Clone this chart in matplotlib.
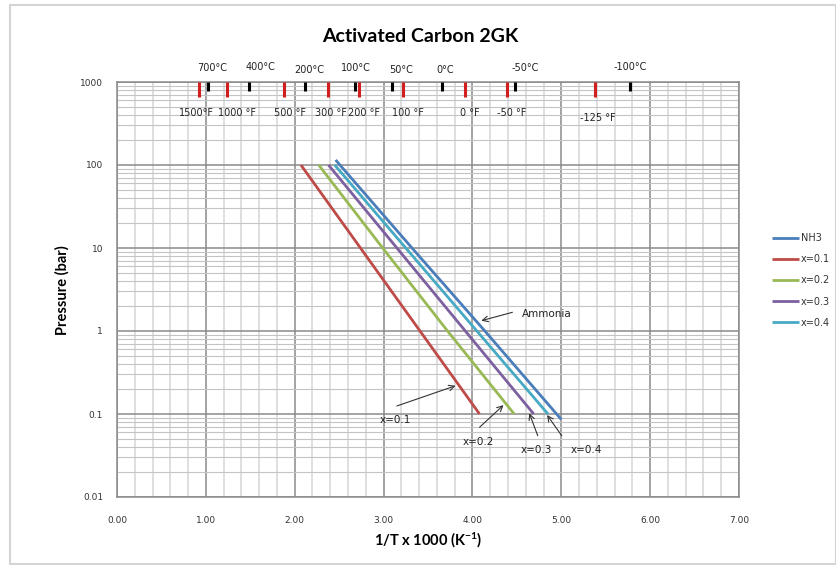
import matplotlib
matplotlib.use("Agg")
import matplotlib.pyplot as plt
from matplotlib.patches import Rectangle
from matplotlib.ticker import FixedLocator, NullFormatter
import numpy as np

plt.rcParams["font.family"] = ["DejaVu Sans"]
plt.rcParams["mathtext.fontset"] = "custom"
plt.rcParams["mathtext.rm"] = "Lato:bold"
plt.rcParams["mathtext.it"] = "Lato:bold"

# ---- isotherm data: 1/T x 1000 (1/K) vs pressure (bar) ----
nh3_x = [2.46, 3.32, 4.14, 5.00]
nh3_p = [115, 10, 1, 0.086]
x01_x = [2.07, 2.74, 3.41, 4.08]
x01_p = [100, 10, 1, 0.1]
x02_x = [2.27, 2.99, 3.72, 4.47]
x02_p = [100, 10, 1, 0.1]
x03_x = [2.38, 3.15, 3.92, 4.69]
x03_p = [100, 10, 1, 0.1]
x04_x = [2.45, 3.25, 4.05, 4.85]
x04_p = [100, 10, 1, 0.1]

series_names = ["NH3", "x=0.1", "x=0.2", "x=0.3", "x=0.4"]
series_colors = ["#4A7EBB", "#BE4B48", "#98B954", "#7D60A0", "#46AAC5"]

# reference temperatures shown along the top edge
temps_c = [700, 400, 200, 100, 50, 0, -50, -100]
temps_f = [1500, 1000, 500, 300, 200, 100, 0, -50, -125]
labels_c = ["700°C", "400°C", "200°C", "100°C", "50°C", "0°C", "-50°C", "-100°C"]
labels_f = ["1500°F", "1000 °F", "500 °F", "300 °F", "200 °F", "100 °F",
            "0 °F", "-50 °F", "-125 °F"]

x_ticks = [0, 1, 2, 3, 4, 5, 6, 7]
y_ticks = [0.01, 0.1, 1, 10, 100, 1000]
y_ticklabels = ["0.01", "0.1", "1", "10", "100", "1000"]


def inv_temp(t_kelvin):
    return 1000.0 / np.asarray(t_kelvin, dtype=float)


W, H = 837, 569
fig = plt.figure(figsize=(W / 100, H / 100), dpi=100)
fig.patch.set_facecolor("white")

# outer chart frame
fig.patches.append(Rectangle((10 / W, 5 / H), (W - 11) / W, (H - 10) / H,
                             transform=fig.transFigure, fill=False,
                             edgecolor="#d4d4d4", lw=1.5))

ax = fig.add_axes([117 / W, 1 - 497 / H, (739 - 117) / W, (497 - 82) / H])
ax.set_xlim(0, 7)
ax.set_yscale("log")
ax.set_ylim(0.01, 1000)

# grid
ax.xaxis.set_major_locator(FixedLocator(x_ticks))
ax.xaxis.set_minor_locator(FixedLocator(np.arange(0, 7.01, 0.2)))
minor_y = [m * 10.0 ** e for e in range(-2, 3) for m in range(2, 10)]
ax.yaxis.set_major_locator(FixedLocator(y_ticks))
ax.yaxis.set_minor_locator(FixedLocator(minor_y))
ax.yaxis.set_minor_formatter(NullFormatter())
ax.grid(which="major", axis="both", color="#8a8a8a", lw=1.1)
ax.grid(which="minor", axis="y", color="#c4c4c4", lw=0.8)
ax.grid(which="minor", axis="x", color="#d6d6d6", lw=1.1)
ax.set_axisbelow(True)

ax.set_xticklabels([f"{v:.2f}" for v in x_ticks])
ax.set_yticklabels(y_ticklabels)
ax.tick_params(which="both", length=0)
ax.tick_params(axis="x", pad=14, labelsize=6.5, labelcolor="#333333")
ax.tick_params(axis="y", pad=10, labelsize=6.5, labelcolor="#333333")
for s in ax.spines.values():
    s.set_color("#8a8a8a")
    s.set_linewidth(1.1)

# isotherms
all_x = [nh3_x, x01_x, x02_x, x03_x, x04_x]
all_p = [nh3_p, x01_p, x02_p, x03_p, x04_p]
handles = []
for xs, ps, name, col in zip(all_x, all_p, series_names, series_colors):
    ln, = ax.plot(xs, ps, color=col, lw=2.0, label=name, solid_capstyle="butt")
    handles.append(ln)
# keep the upper lines drawn above the others
handles[0].set_zorder(3)

# temperature reference marks along the top
xform = ax.get_xaxis_transform()
xc = inv_temp(np.array(temps_c) + 273.15)
xf = inv_temp((np.array(temps_f) - 32) * 5 / 9 + 273.15)
for x in xc:
    ax.plot([x, x], [1.0, 1 - 9 / 415], transform=xform, color="black",
            lw=2.2, clip_on=False, zorder=4, solid_capstyle="butt")
for x in xf:
    ax.plot([x, x], [1.0, 1 - 15 / 415], transform=xform, color="#d21e1e",
            lw=2.2, clip_on=False, zorder=4, solid_capstyle="butt")

c_dx = [4, 11, 4, 1, 9, 3, 10, 0]
c_dy = [14.3, 15.3, 12, 13.7, 12, 12, 13.7, 15.3]
for x, lab, dx, dy in zip(xc, labels_c, c_dx, c_dy):
    ax.annotate(lab, (x, 1.0), xycoords=xform,
                xytext=(dx * 0.72, dy * 0.72), textcoords="offset points",
                ha="center", va="center", fontsize=7, color="#222222")
f_dx = [-2, 10, 6, 3, 5, 5, 5, 4, 3]
f_dy = [31, 31, 31, 31, 31, 31, 31, 31, 36]
for x, lab, dx, dy in zip(xf, labels_f, f_dx, f_dy):
    ax.annotate(lab, (x, 1.0), xycoords=xform,
                xytext=(dx * 0.72, -dy * 0.72), textcoords="offset points",
                ha="center", va="center", fontsize=7, color="#222222")

# callouts
arrow = dict(arrowstyle="->", color="#333333", lw=0.8, shrinkA=0, shrinkB=0,
             mutation_scale=10)
ax.annotate("", xy=(4.10, 1.33), xytext=(4.45, 1.68), arrowprops=arrow)
ax.text(4.555, 1.60, "Ammonia", fontsize=7.5, ha="left", va="center",
        color="#222222")
callouts = [
    ("x=0.1", (3.81, 0.219), (3.15, 0.125), (3.136, 0.0847)),
    ("x=0.2", (4.35, 0.128), (4.08, 0.0692), (4.066, 0.0464)),
    ("x=0.3", (4.64, 0.102), (4.735, 0.0548), (4.723, 0.0368)),
    ("x=0.4", (4.84, 0.0973), (5.005, 0.0548), (5.286, 0.0368)),
]
for lab, head, tail, txt in callouts:
    ax.annotate("", xy=head, xytext=tail, arrowprops=arrow)
    ax.text(txt[0], txt[1], lab, fontsize=7.5, ha="center", va="center",
            color="#222222")

# titles
fig.text(420 / W, 1 - 36 / H, "Activated Carbon 2GK", ha="center",
         va="center", fontsize=14, fontweight="bold", family="Lato")
fig.text(428 / W, 1 - 540 / H, r"1/T x 1000 (K$^{\mathregular{-1}}$)",
         ha="center", va="center", fontsize=10.5, fontweight="bold",
         family="Lato")
fig.text(62 / W, 1 - 290 / H, "Pressure (bar)", ha="center", va="center",
         rotation=90, fontsize=10.5, fontweight="bold", family="Lato")

# legend to the right
leg = fig.legend(handles=handles, labels=series_names, loc="upper left",
                 bbox_to_anchor=(772 / W, 1 - 233 / H), frameon=False,
                 fontsize=7, handlelength=2.8, handletextpad=0.15,
                 labelspacing=1.15, borderpad=0, borderaxespad=0)
for t in leg.get_texts():
    t.set_color("#333333")

fig.savefig("out.png", dpi=100, facecolor="white")
